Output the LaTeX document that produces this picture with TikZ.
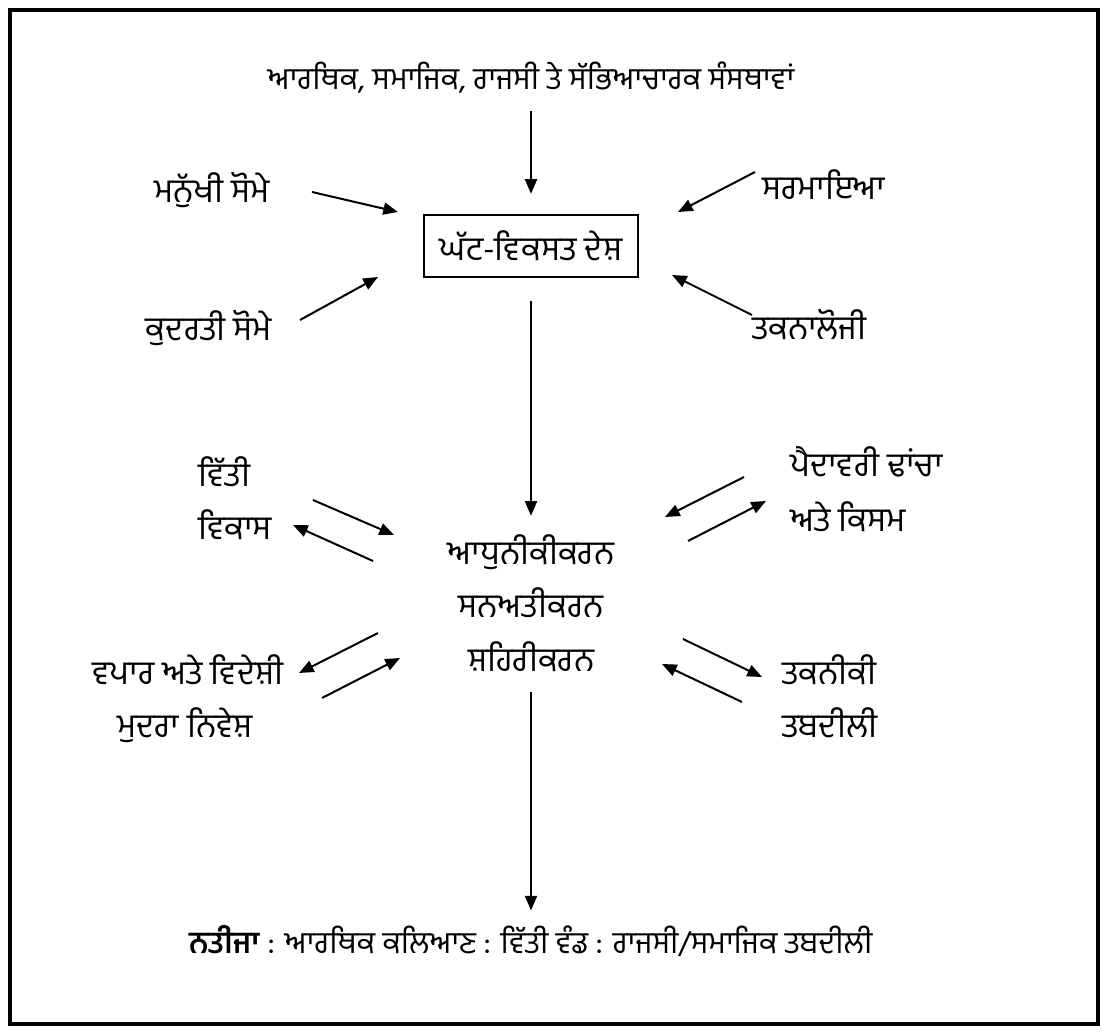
\documentclass[tikz,border=0pt]{standalone}
\usepackage{fontspec}
\newfontfamily\gur[Script=Gurmukhi]{Hind Jalandhar}
\usetikzlibrary{arrows.meta,positioning}
\tikzstyle{lbl} = [font=\gur\fontsize{25}{30}\selectfont, inner sep=0pt]
\tikzstyle{line} = [font=\gur\fontsize{23}{28}\selectfont, inner sep=0pt]
\tikzstyle{boxed} = [lbl, draw, line width=1.6pt, inner xsep=12pt, inner ysep=12pt]
\tikzstyle{arr} = [line width=1.5pt, -{Triangle[length=11pt,width=9pt]}]

\begin{document}
\begin{tikzpicture}[x=0.75pt, y=-0.75pt]

	\useasboundingbox (0,0) rectangle (1108,1034);
	\draw[line width=3.5pt] (10,10) rectangle (1098,1024);

	% centre column
	\node[line] (top) at (531,78) {ਆਰਥਿਕ, ਸਮਾਜਿਕ, ਰਾਜਸੀ ਤੇ ਸੱਭਿਆਚਾਰਕ ਸੰਸਥਾਵਾਂ};
	\node[boxed] (ghat) at (531,246) {ਘੱਟ-ਵਿਕਸਤ ਦੇਸ਼};
	\node[lbl, align=center, text depth=0pt] (mid) at (531,603) {ਆਧੁਨੀਕੀਕਰਨ\\[10pt]ਸਨਅਤੀਕਰਨ\\[10pt]ਸ਼ਹਿਰੀਕਰਨ};
	\node[line] (result) at (531,941) {{\bfseries ਨਤੀਜਾ} : ਆਰਥਿਕ ਕਲਿਆਣ : ਵਿੱਤੀ ਵੰਡ : ਰਾਜਸੀ/ਸਮਾਜਿਕ ਤਬਦੀਲੀ};

	\draw[arr, shorten <=13pt, shorten >=15pt] (top) -- (ghat);
	\draw[arr, shorten <=17pt, shorten >=14pt] (ghat) -- (mid);
	\draw[arr, shorten <=15pt, shorten >=11pt] (mid) -- (result);

	% inputs
	\node[lbl] (manukhi) at (212,190) {ਮਨੁੱਖੀ ਸੋਮੇ};
	\node[lbl, anchor=west] (sarmaia) at (762,185) {ਸਰਮਾਇਆ};
	\node[lbl] (kudrati) at (209,328) {ਕੁਦਰਤੀ ਸੋਮੇ};
	\node[lbl, anchor=west] (takna) at (752,325) {ਤਕਨਾਲੋਜੀ};

	\coordinate (m1) at (312,192);  \coordinate (m2) at (398,212);
	\coordinate (s1) at (755,172);  \coordinate (s2) at (678,212);
	\coordinate (k1) at (300,320);  \coordinate (k2) at (378,277);
	\coordinate (t1) at (752,315);  \coordinate (t2) at (672,275);
	\draw[arr] (m1) -- (m2);
	\draw[arr] (s1) -- (s2);
	\draw[arr] (k1) -- (k2);
	\draw[arr] (t1) -- (t2);

	% two-way links
	\node[lbl, anchor=west] (vitti) at (198,472) {ਵਿੱਤੀ};
	\node[lbl, anchor=west] (vikas) at (198,525) {ਵਿਕਾਸ};
	\node[lbl, anchor=west] (paida) at (790,462) {ਪੈਦਾਵਰੀ ਢਾਂਚਾ};
	\node[lbl, anchor=west] (kisam) at (790,517) {ਅਤੇ ਕਿਸਮ};
	\node[lbl] (vapar) at (188,670) {ਵਪਾਰ ਅਤੇ ਵਿਦੇਸ਼ੀ};
	\node[lbl] (mudra) at (185,725) {ਮੁਦਰਾ ਨਿਵੇਸ਼};
	\node[lbl, anchor=west] (takniki) at (782,670) {ਤਕਨੀਕੀ};
	\node[lbl, anchor=west] (tabdili) at (782,723) {ਤਬਦੀਲੀ};

	\coordinate (v1) at (313,500);  \coordinate (v2) at (394,535);
	\coordinate (v3) at (373,561);  \coordinate (v4) at (293,525);
	\coordinate (p1) at (744,477);  \coordinate (p2) at (665,517);
	\coordinate (p3) at (688,541);  \coordinate (p4) at (766,501);
	\coordinate (w1) at (378,633);  \coordinate (w2) at (299,673);
	\coordinate (w3) at (322,698);  \coordinate (w4) at (400,658);
	\coordinate (q1) at (683,639);  \coordinate (q2) at (762,677);
	\coordinate (q3) at (742,702);  \coordinate (q4) at (662,664);
	\foreach \a/\b in {v1/v2, v3/v4, p1/p2, p3/p4, w1/w2, w3/w4, q1/q2, q3/q4}
		\draw[arr] (\a) -- (\b);

\end{tikzpicture}
\end{document}
